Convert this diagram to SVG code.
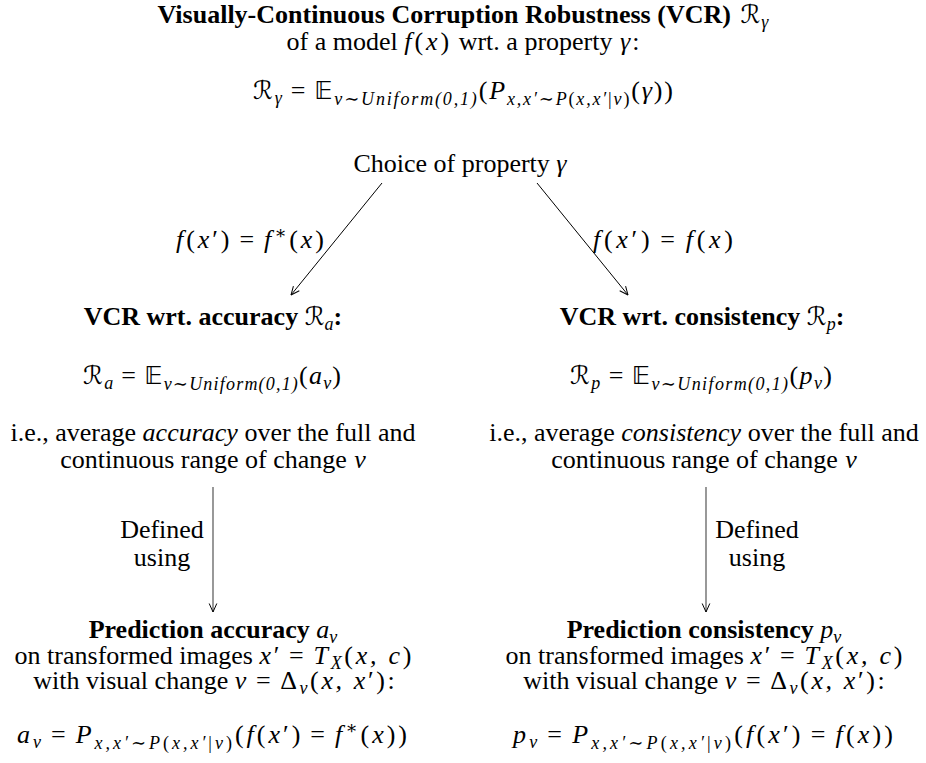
<svg xmlns="http://www.w3.org/2000/svg" width="926" height="763" viewBox="0 0 926 763">
<defs>
<style>
text{font-family:"Liberation Serif","DejaVu Serif",serif;font-size:26px;fill:#000;text-anchor:middle}
.b{font-weight:bold}
.i{font-style:italic}
.s{font-size:18px}
.cal{font-family:"DejaVu Sans",sans-serif;font-style:normal;font-weight:normal;font-size:25px}
.bb{font-family:"DejaVu Sans",sans-serif;font-size:25px}
.c{stroke:#000;stroke-width:1;fill:none}
.g{stroke:#444;stroke-width:1.1;fill:none}
</style>
<marker id="ah" viewBox="0 0 10 10" refX="9.5" refY="5" markerWidth="10" markerHeight="10" orient="auto" markerUnits="userSpaceOnUse">
<path d="M1,1.2 L9.5,5 L1,8.8" fill="none" stroke="#000" stroke-width="1"/>
</marker>
</defs>
<rect width="926" height="763" fill="#fff"/>

<g id="title">
<text x="463" y="23"><tspan class="b">Visually-Continuous Corruption Robustness (VCR) </tspan><tspan class="cal" dx="3">ℛ</tspan><tspan class="i s" dy="5" dx="1">γ</tspan></text>
<text x="463" y="50">of a model <tspan textLength="45" lengthAdjust="spacing"><tspan class="i">f</tspan>(<tspan class="i">x</tspan>)</tspan> wrt. a property <tspan class="i" dx="1">γ</tspan><tspan dx="2">:</tspan></text>
<text x="463" y="99" textLength="420" lengthAdjust="spacing"><tspan class="cal">ℛ</tspan><tspan class="i s" dy="5">γ</tspan><tspan dy="-5" dx="7">=</tspan><tspan class="bb" dx="7">𝔼</tspan><tspan class="i s" dy="6">v∼Uniform(0,1)</tspan><tspan dy="-6">(</tspan><tspan class="i">P</tspan><tspan class="i s" dy="6">x,x′∼P</tspan><tspan class="s">(</tspan><tspan class="i s">x,x′</tspan><tspan class="s">|</tspan><tspan class="i s">v</tspan><tspan class="s">)</tspan><tspan dy="-6">(</tspan><tspan class="i">γ</tspan>))</text>
</g>

<g id="choice">
<text x="460" y="172">Choice of property <tspan class="i">γ</tspan></text>
</g>

<g id="connectors">
<line class="c" x1="382" y1="183" x2="291" y2="295" marker-end="url(#ah)"/>
<line class="c" x1="537" y1="183" x2="628" y2="295" marker-end="url(#ah)"/>
<line class="g" x1="213" y1="487" x2="213" y2="612" marker-end="url(#ah)"/>
<line class="g" x1="706" y1="487" x2="706" y2="612" marker-end="url(#ah)"/>
<text x="250" y="248" textLength="148" lengthAdjust="spacing"><tspan class="i">f</tspan>(<tspan class="i">x</tspan>′)<tspan dx="7">=</tspan><tspan class="i" dx="7">f</tspan><tspan class="s" dy="-9">∗</tspan><tspan dy="9">(</tspan><tspan class="i">x</tspan>)</text>
<text x="663" y="248" textLength="140" lengthAdjust="spacing"><tspan class="i">f</tspan>(<tspan class="i">x</tspan>′)<tspan dx="7">=</tspan><tspan class="i" dx="7">f</tspan>(<tspan class="i">x</tspan>)</text>
<text x="162" y="538">Defined</text>
<text x="162" y="566">using</text>
<text x="757" y="538">Defined</text>
<text x="757" y="566">using</text>
</g>

<g id="vcr-accuracy">
<text x="213" y="325"><tspan class="b">VCR wrt. accuracy </tspan><tspan class="cal">ℛ</tspan><tspan class="i s" dy="5">a</tspan><tspan class="b" dy="-5">:</tspan></text>
<text x="212" y="384" textLength="258" lengthAdjust="spacing"><tspan class="cal">ℛ</tspan><tspan class="i s" dy="5">a</tspan><tspan dy="-5" dx="7">=</tspan><tspan class="bb" dx="7">𝔼</tspan><tspan class="i s" dy="6">v∼Uniform(0,1)</tspan><tspan dy="-6">(</tspan><tspan class="i">a</tspan><tspan class="i s" dy="5">v</tspan><tspan dy="-5">)</tspan></text>
<text x="213" y="441">i.e., average <tspan class="i">accuracy</tspan> over the full and</text>
<text x="213" y="468">continuous range of change <tspan class="i" dx="1">v</tspan></text>
</g>

<g id="vcr-consistency">
<text x="702" y="325"><tspan class="b">VCR wrt. consistency </tspan><tspan class="cal">ℛ</tspan><tspan class="i s" dy="5">p</tspan><tspan class="b" dy="-5">:</tspan></text>
<text x="701" y="384" textLength="262" lengthAdjust="spacing"><tspan class="cal">ℛ</tspan><tspan class="i s" dy="5">p</tspan><tspan dy="-5" dx="7">=</tspan><tspan class="bb" dx="7">𝔼</tspan><tspan class="i s" dy="6">v∼Uniform(0,1)</tspan><tspan dy="-6">(</tspan><tspan class="i">p</tspan><tspan class="i s" dy="5">v</tspan><tspan dy="-5">)</tspan></text>
<text x="704" y="441">i.e., average <tspan class="i">consistency</tspan> over the full and</text>
<text x="704" y="468">continuous range of change <tspan class="i" dx="1">v</tspan></text>
</g>

<g id="prediction-accuracy">
<text x="213" y="638"><tspan class="b">Prediction accuracy </tspan><tspan class="i">a</tspan><tspan class="i s" dy="5">v</tspan></text>
<text x="213" y="664">on transformed images <tspan textLength="152" lengthAdjust="spacing"><tspan class="i">x</tspan>′<tspan dx="7">=</tspan><tspan class="i" dx="7">T</tspan><tspan class="i s" dy="5">X</tspan><tspan dy="-5">(</tspan><tspan class="i">x, c</tspan>)</tspan></text>
<text x="214" y="689">with visual change <tspan textLength="160" lengthAdjust="spacing"><tspan class="i">v</tspan><tspan dx="7">=</tspan><tspan dx="7">Δ</tspan><tspan class="i s" dy="5">v</tspan><tspan dy="-5">(</tspan><tspan class="i">x, x</tspan>′):</tspan></text>
<text x="212" y="743" textLength="390" lengthAdjust="spacing"><tspan class="i">a</tspan><tspan class="i s" dy="5">v</tspan><tspan dy="-5" dx="7">=</tspan><tspan class="i" dx="7">P</tspan><tspan class="i s" dy="6">x,x′∼P</tspan><tspan class="s">(</tspan><tspan class="i s">x,x′</tspan><tspan class="s">|</tspan><tspan class="i s">v</tspan><tspan class="s">)</tspan><tspan dy="-6">(</tspan><tspan class="i">f</tspan>(<tspan class="i">x</tspan>′)<tspan dx="7">=</tspan><tspan class="i" dx="7">f</tspan><tspan class="s" dy="-9">∗</tspan><tspan dy="9">(</tspan><tspan class="i">x</tspan>))</text>
</g>

<g id="prediction-consistency">
<text x="704" y="638"><tspan class="b">Prediction consistency </tspan><tspan class="i">p</tspan><tspan class="i s" dy="5">v</tspan></text>
<text x="704" y="664">on transformed images <tspan textLength="152" lengthAdjust="spacing"><tspan class="i">x</tspan>′<tspan dx="7">=</tspan><tspan class="i" dx="7">T</tspan><tspan class="i s" dy="5">X</tspan><tspan dy="-5">(</tspan><tspan class="i">x, c</tspan>)</tspan></text>
<text x="704" y="689">with visual change <tspan textLength="160" lengthAdjust="spacing"><tspan class="i">v</tspan><tspan dx="7">=</tspan><tspan dx="7">Δ</tspan><tspan class="i s" dy="5">v</tspan><tspan dy="-5">(</tspan><tspan class="i">x, x</tspan>′):</tspan></text>
<text x="703" y="743" textLength="380" lengthAdjust="spacing"><tspan class="i">p</tspan><tspan class="i s" dy="5">v</tspan><tspan dy="-5" dx="7">=</tspan><tspan class="i" dx="7">P</tspan><tspan class="i s" dy="6">x,x′∼P</tspan><tspan class="s">(</tspan><tspan class="i s">x,x′</tspan><tspan class="s">|</tspan><tspan class="i s">v</tspan><tspan class="s">)</tspan><tspan dy="-6">(</tspan><tspan class="i">f</tspan>(<tspan class="i">x</tspan>′)<tspan dx="7">=</tspan><tspan class="i" dx="7">f</tspan>(<tspan class="i">x</tspan>))</text>
</g>
</svg>
